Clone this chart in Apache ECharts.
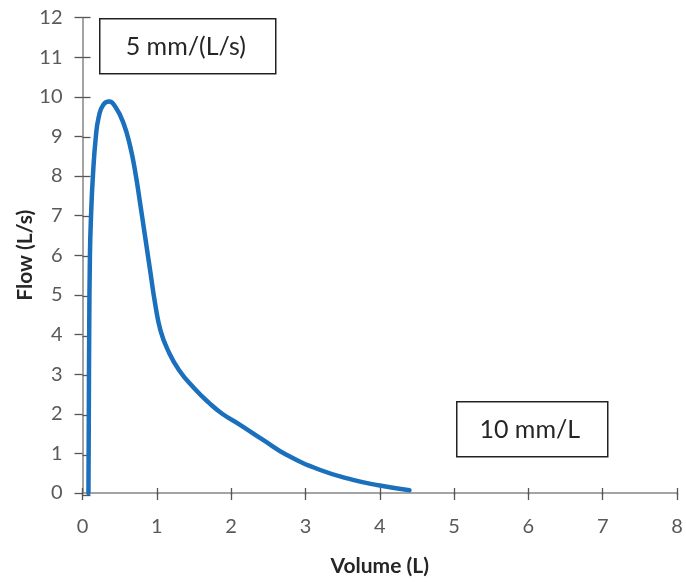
<!DOCTYPE html>
<html>
<head>
<meta charset="utf-8">
<script src="https://cdn.jsdelivr.net/npm/echarts@6/dist/echarts.min.js"></script>
<style>
  html, body { margin: 0; padding: 0; background: #fff; }
  #myChart { width: 686px; height: 582px; }
</style>
</head>
<body>
<div id="myChart"></div>
<script>
// flow-volume curve
var volume = [0.08, 0.085, 0.09, 0.10, 0.115, 0.14, 0.18, 0.22, 0.28, 0.36, 0.45, 0.55, 0.64, 0.71, 0.77, 0.84, 0.91, 0.98, 1.05, 1.15, 1.30, 1.50, 1.70, 1.88, 2.12, 2.43, 2.75, 3.20, 3.64, 4.00, 4.40];
var flow   = [0.0,  2.0,   4.0,  6.0,  7.0,   8.0,  9.0,  9.5,  9.8,  9.88, 9.72, 9.34, 8.76, 8.1,  7.38, 6.5,  5.62, 4.75, 4.1,  3.6,  3.1,  2.65, 2.28, 2.0,  1.72, 1.34, 0.96, 0.58, 0.33, 0.19, 0.07];

var xTicks = ["0", "1", "2", "3", "4", "5", "6", "7", "8"];
var yTicks = ["0", "1", "2", "3", "4", "5", "6", "7", "8", "9", "10", "11", "12"];

var font = "Lato, 'Open Sans', sans-serif";
var axisGrey = "#868686";
var labelGrey = "#595959";

var points = volume.map(function (v, i) { return [v, flow[i]]; });

var myChart = echarts.init(document.getElementById("myChart"));

var gridBox = { left: 82.5, right: 9, top: 17.5, bottom: 87, containLabel: false };

// main axes (grid 0) carry labels + outer ticks, grid 1 only adds inner ticks
function xAxisDef(g, inside, showLabel) {
  return {
    gridIndex: g,
    type: "value",
    min: 0,
    max: xTicks.length - 1,
    interval: 1,
    name: showLabel ? "Volume (L)" : "",
    nameLocation: "middle",
    nameGap: 63,
    nameMoveOverlap: false,
    nameTextStyle: { fontFamily: font, fontWeight: "bold", fontSize: 21, color: "#262626" },
    axisLine: { show: true, lineStyle: { color: axisGrey, width: 1.5, opacity: showLabel ? 1 : 0 } },
    axisTick: { show: true, inside: inside, length: 7, lineStyle: { color: "#555", width: 1.3 } },
    axisLabel: {
      show: showLabel, margin: 24, fontFamily: font, fontSize: 20, color: labelGrey,
      formatter: function (v) { return xTicks[v]; }
    },
    splitLine: { show: false }
  };
}

function yAxisDef(g, inside, showLabel) {
  return {
    gridIndex: g,
    type: "value",
    min: 0,
    max: yTicks.length - 1,
    interval: 1,
    name: showLabel ? "Flow (L/s)" : "",
    nameLocation: "middle",
    nameGap: 47,
    nameRotate: 90,
    nameMoveOverlap: false,
    nameTextStyle: { fontFamily: font, fontWeight: "bold", fontSize: 21, color: "#262626" },
    axisLine: { show: true, lineStyle: { color: axisGrey, width: 1.5, opacity: showLabel ? 1 : 0 } },
    axisTick: { show: true, inside: inside, length: 8, lineStyle: { color: "#555", width: 1.3 } },
    axisLabel: {
      show: showLabel, margin: 20, fontFamily: font, fontSize: 20, color: labelGrey,
      formatter: function (v) { return yTicks[v]; }
    },
    splitLine: { show: false }
  };
}

var option = {
  animation: false,
  backgroundColor: "#fff",
  grid: [gridBox, gridBox],
  xAxis: [xAxisDef(0, false, true), xAxisDef(1, true, false)],
  yAxis: [yAxisDef(0, false, true), yAxisDef(1, true, false)],
  series: [
    {
      type: "line",
      xAxisIndex: 0,
      yAxisIndex: 0,
      data: points,
      smooth: 0.5,
      showSymbol: false,
      z: 5,
      lineStyle: { color: "#1b70bd", width: 4.5, cap: "round", join: "round" }
    }
  ],
  graphic: [
    {
      type: "group", left: 99, top: 18,
      children: [
        { type: "rect", shape: { x: 0, y: 0, width: 176, height: 55 }, style: { fill: "#fff", stroke: "#222", lineWidth: 1.5 } },
        { type: "text", x: 86, y: 28, style: { text: "5 mm/(L/s)", font: "25px " + font, fill: "#262626", align: "center", verticalAlign: "middle" } }
      ]
    },
    {
      type: "group", left: 456, top: 401,
      children: [
        { type: "rect", shape: { x: 0, y: 0, width: 151, height: 55 }, style: { fill: "#fff", stroke: "#222", lineWidth: 1.5 } },
        { type: "text", x: 73, y: 28, style: { text: "10 mm/L", font: "25px " + font, fill: "#262626", align: "center", verticalAlign: "middle" } }
      ]
    }
  ]
};

myChart.setOption(option);
</script>
</body>
</html>
